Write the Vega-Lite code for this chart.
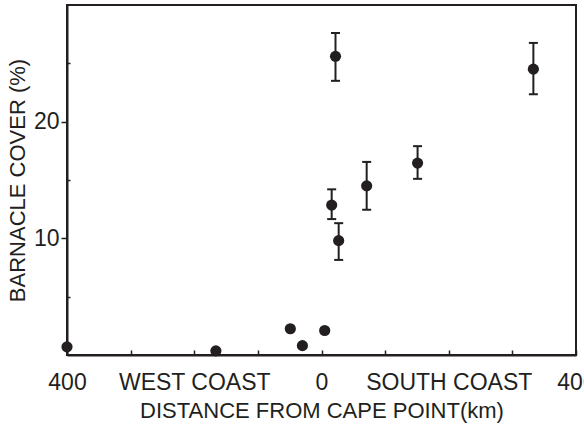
{
  "$schema": "https://vega.github.io/schema/vega-lite/v6.json",
  "width": 509,
  "height": 350,
  "autosize": "none",
  "padding": {"left": 67, "top": 5, "right": 8, "bottom": 70},
  "background": "white",
  "config": {
    "view": {"stroke": "#231f20", "strokeWidth": 2},
    "axis": {
      "grid": false,
      "domainColor": "#231f20",
      "domainWidth": 2,
      "tickColor": "#231f20",
      "tickWidth": 1.5,
      "labelColor": "#231f20",
      "titleColor": "#231f20",
      "labelFont": "Liberation Sans",
      "titleFont": "Liberation Sans",
      "labelFontSize": 23,
      "titleFontSize": 22,
      "titleFontWeight": "normal"
    }
  },
  "data": {
    "values": [
      {"dist": -400, "cover": 0.7, "lo": null, "hi": null},
      {"dist": -166, "cover": 0.35, "lo": null, "hi": null},
      {"dist": -49, "cover": 2.25, "lo": null, "hi": null},
      {"dist": -30, "cover": 0.8, "lo": null, "hi": null},
      {"dist": 5, "cover": 2.1, "lo": null, "hi": null},
      {"dist": 22, "cover": 25.6, "lo": 23.5, "hi": 27.6},
      {"dist": 16, "cover": 12.85, "lo": 11.65, "hi": 14.2},
      {"dist": 27, "cover": 9.8, "lo": 8.15, "hi": 11.3},
      {"dist": 71, "cover": 14.5, "lo": 12.45, "hi": 16.55},
      {"dist": 151, "cover": 16.45, "lo": 15.1, "hi": 17.9},
      {"dist": 333, "cover": 24.5, "lo": 22.35, "hi": 26.75}
    ]
  },
  "encoding": {
    "x": {
      "field": "dist",
      "type": "quantitative",
      "scale": {"domain": [-400, 400], "nice": false, "zero": false},
      "axis": {
        "title": "DISTANCE FROM CAPE POINT(km)",
        "values": [-400, -300, -200, -100, 0, 100, 200, 300, 400],
        "labelExpr": "datum.value == -400 || datum.value == 400 ? '400' : datum.value == 0 ? '0' : datum.value == -200 ? 'WEST COAST' : datum.value == 200 ? 'SOUTH COAST' : ''",
        "tickSize": -5,
        "labelPadding": 21,
        "labelFlush": false,
        "labelOverlap": false,
        "titlePadding": 6
      }
    }
  },
  "layer": [
    {
      "transform": [{"filter": "datum.lo != null"}],
      "mark": {"type": "rule", "color": "#231f20", "strokeWidth": 2},
      "encoding": {
        "y": {"field": "lo", "type": "quantitative"},
        "y2": {"field": "hi"}
      }
    },
    {
      "transform": [{"filter": "datum.lo != null"}],
      "mark": {"type": "tick", "orient": "horizontal", "color": "#231f20", "size": 9, "thickness": 2, "opacity": 1},
      "encoding": {"y": {"field": "lo", "type": "quantitative"}}
    },
    {
      "transform": [{"filter": "datum.lo != null"}],
      "mark": {"type": "tick", "orient": "horizontal", "color": "#231f20", "size": 9, "thickness": 2, "opacity": 1},
      "encoding": {"y": {"field": "hi", "type": "quantitative"}}
    },
    {
      "mark": {"type": "circle", "color": "#231f20", "opacity": 1, "size": 125},
      "encoding": {
        "y": {
          "field": "cover",
          "type": "quantitative",
          "scale": {"domain": [0, 30], "nice": false},
          "axis": {
            "title": "BARNACLE COVER (%)",
            "values": [5, 10, 15, 20, 25],
            "labelExpr": "datum.value % 10 == 0 ? datum.label : ''",
            "tickSize": {"condition": {"test": "datum.value % 10 == 0", "value": 6}, "value": -3},
            "labelPadding": 2,
            "titlePadding": 4
          }
        }
      }
    }
  ]
}
